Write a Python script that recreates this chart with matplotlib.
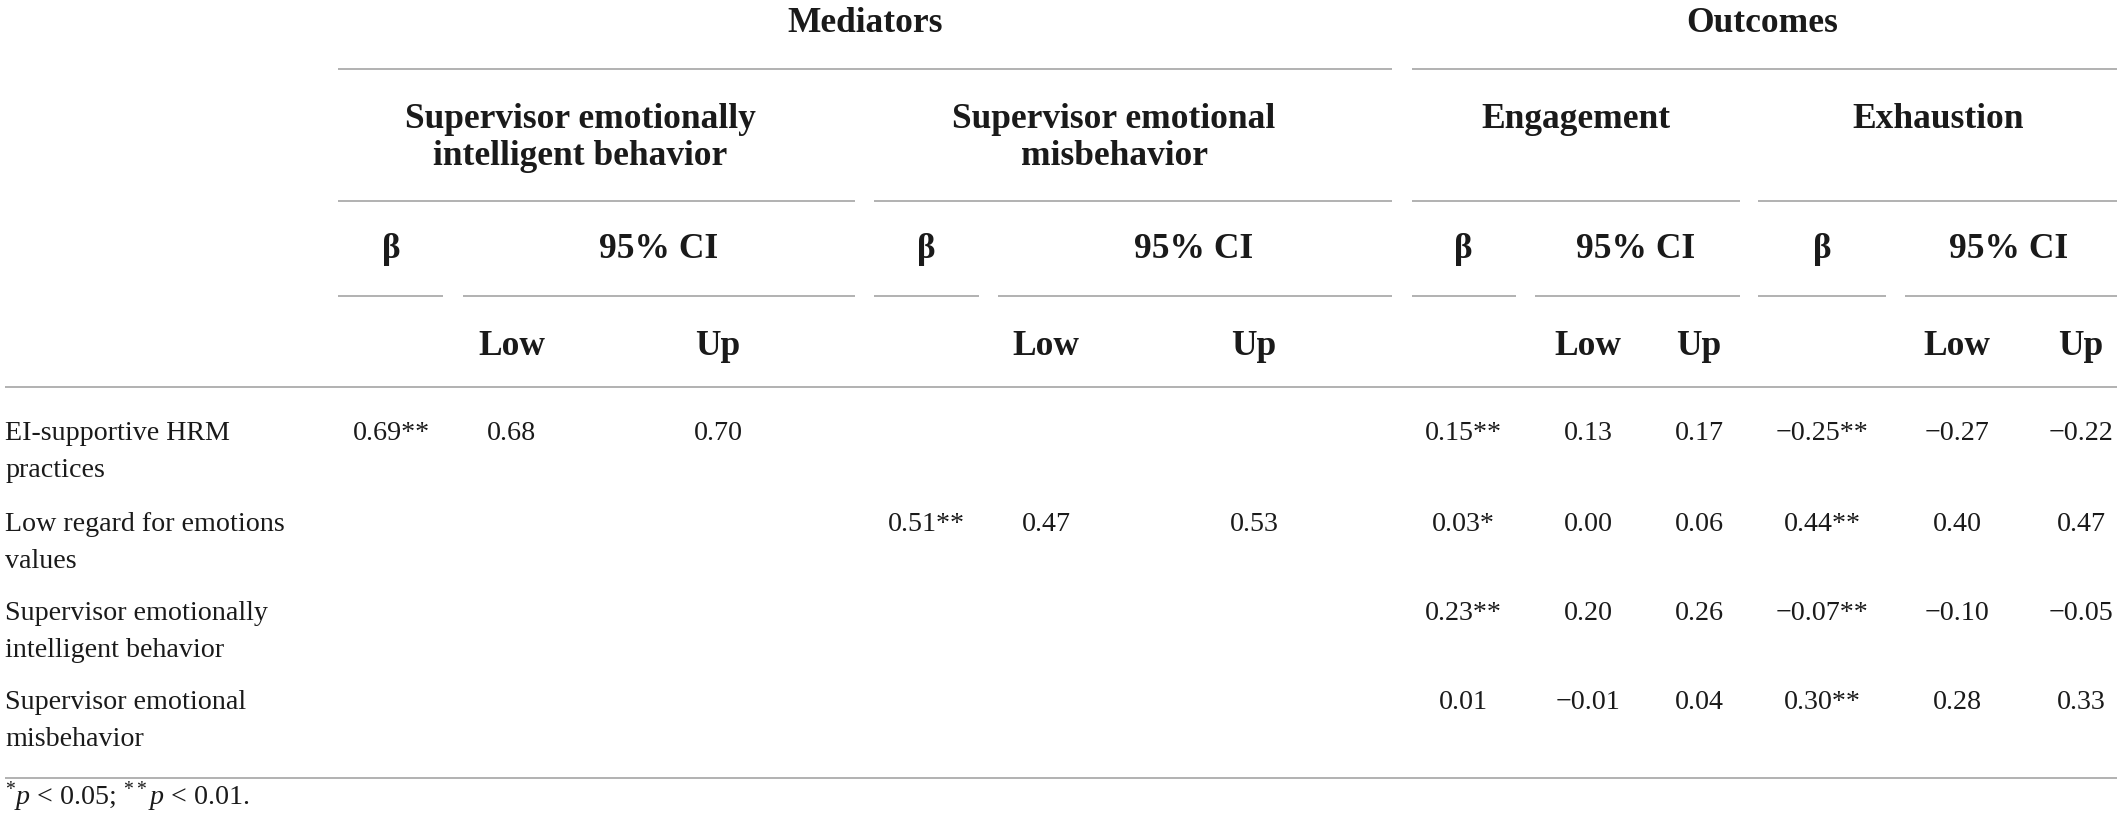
import matplotlib
matplotlib.use("Agg")
import matplotlib.pyplot as plt

# ---- table content ----
row_labels = [
    "EI-supportive HRM\npractices",
    "Low regard for emotions\nvalues",
    "Supervisor emotionally\nintelligent behavior",
    "Supervisor emotional\nmisbehavior",
]
top_groups = ["Mediators", "Outcomes"]
sub_groups = ["Supervisor emotionally\nintelligent behavior",
              "Supervisor emotional\nmisbehavior",
              "Engagement", "Exhaustion"]
beta_head = "\u03b2"
ci_head = "95% CI"
low_head = "Low"
up_head = "Up"

# supervisor emotionally intelligent behavior
seib_beta = [0.69, None, None, None]
seib_sig = ["**", "", "", ""]
seib_low = [0.68, None, None, None]
seib_up = [0.70, None, None, None]
# supervisor emotional misbehavior
sem_beta = [None, 0.51, None, None]
sem_sig = ["", "**", "", ""]
sem_low = [None, 0.47, None, None]
sem_up = [None, 0.53, None, None]
# engagement
eng_beta = [0.15, 0.03, 0.23, 0.01]
eng_sig = ["**", "*", "**", ""]
eng_low = [0.13, 0.00, 0.20, -0.01]
eng_up = [0.17, 0.06, 0.26, 0.04]
# exhaustion
exh_beta = [-0.25, 0.44, -0.07, 0.30]
exh_sig = ["**", "**", "**", "**"]
exh_low = [-0.27, 0.40, -0.10, 0.28]
exh_up = [-0.22, 0.47, -0.05, 0.33]

footnote = r"$^{*}\mathit{p}$ < 0.05; $^{**}\mathit{p}$ < 0.01."

# ---- layout (pixel coordinates) ----
W, H = 2117, 832
FONT = "Liberation Serif"
TXT = "#1a1a1a"
RULE = "#9c9c9c"
BODY = 20.2
HEAD = 25.5

plt.rcParams["mathtext.fontset"] = "custom"
plt.rcParams["mathtext.rm"] = FONT
plt.rcParams["mathtext.it"] = FONT + ":italic"

top_x = [865, 1762]
top_spans = [(338, 1392), (1412, 2117)]
sub_x = [580, 1114, 1576, 1938]
sub_spans = [(338, 855), (874, 1392), (1412, 1740), (1758, 2117)]
beta_spans = [(338, 443), (874, 979), (1412, 1516), (1758, 1886)]
ci_spans = [(463, 855), (998, 1392), (1535, 1740), (1905, 2117)]
beta_x = [391, 926, 1463, 1822]
ci_x = [659, 1194, 1636, 2009]
low_x = [512, 1046, 1588, 1957]
up_x = [718, 1254, 1699, 2081]

y_top, y_sub, y_beta, y_lowup = 32, 128, 258, 355
row_y = [440, 531, 620, 709]
line_gap = 37


def fmt(v):
    if v is None:
        return ""
    return f"{v:.2f}".replace("-", "\u2212")


def put(ax, x, y, s, size=BODY, bold=False, ha="center"):
    for k, part in enumerate(s.split("\n")):
        ax.text(x, y + k * line_gap, part, ha=ha, va="baseline",
                fontsize=size, fontfamily=FONT, color=TXT,
                fontweight="bold" if bold else "normal")


def rule(ax, x0, x1, y):
    ax.plot([x0, x1], [y, y], color=RULE, lw=1.1, solid_capstyle="butt")


fig = plt.figure(figsize=(W / 100, H / 100), dpi=100)
ax = fig.add_axes([0, 0, 1, 1])
ax.set_xlim(0, W)
ax.set_ylim(H, 0)
ax.axis("off")

# header rows
for name, x in zip(top_groups, top_x):
    put(ax, x, y_top, name, HEAD, True)
for x0, x1 in top_spans:
    rule(ax, x0, x1, 69)

for name, x in zip(sub_groups, sub_x):
    put(ax, x, y_sub, name, HEAD, True)
for x0, x1 in sub_spans:
    rule(ax, x0, x1, 201)

for i in range(4):
    put(ax, beta_x[i], y_beta, beta_head, HEAD, True)
    put(ax, ci_x[i], y_beta, ci_head, HEAD, True)
    rule(ax, *beta_spans[i], 296)
    rule(ax, *ci_spans[i], 296)
    put(ax, low_x[i], y_lowup, low_head, HEAD, True)
    put(ax, up_x[i], y_lowup, up_head, HEAD, True)

rule(ax, 5, W, 387)

# body
groups = [
    (seib_beta, seib_sig, seib_low, seib_up),
    (sem_beta, sem_sig, sem_low, sem_up),
    (eng_beta, eng_sig, eng_low, eng_up),
    (exh_beta, exh_sig, exh_low, exh_up),
]
for r, label in enumerate(row_labels):
    y = row_y[r]
    put(ax, 5, y, label, ha="left")
    for g, (b, s, lo, up) in enumerate(groups):
        if b[r] is not None:
            put(ax, beta_x[g], y, fmt(b[r]) + s[r])
        put(ax, low_x[g], y, fmt(lo[r]))
        put(ax, up_x[g], y, fmt(up[r]))

rule(ax, 5, W, 778)
ax.text(5, 805, footnote, ha="left", va="baseline", fontsize=BODY,
        fontfamily=FONT, color=TXT)

fig.savefig("out.png", dpi=100)
